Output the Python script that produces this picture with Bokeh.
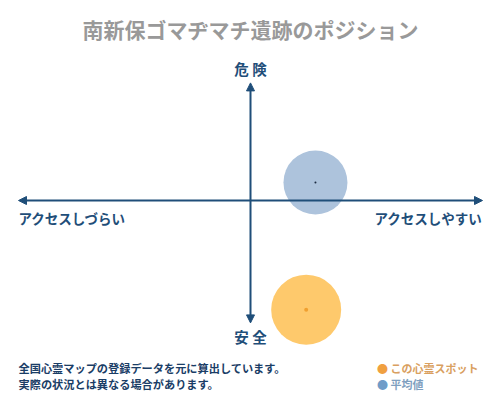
from bokeh.plotting import figure
from bokeh.models import Range1d, Arrow, NormalHead, Label, ColumnDataSource
from bokeh.embed import file_html
from bokeh.resources import INLINE

# ---- data ----
series_names = ["この心霊スポット", "平均値"]
access_values = [0.24, 0.28]      # x: アクセスしづらい(-1) ... アクセスしやすい(+1)
danger_values = [-0.91, 0.15]     # y: 安全(-1) ... 危険(+1)
title_text = "南新保ゴマヂマチ遺跡のポジション"
axis_labels = {"top": "危 険", "bottom": "安 全",
               "left": "アクセスしづらい", "right": "アクセスしやすい"}
footer_lines = ["全国心霊マップの登録データを元に算出しています。",
                "実際の状況とは異なる場合があります。"]

FONT = "Noto Sans CJK JP"
NAVY = "#1f4e79"
W, H = 500, 400

p = figure(width=W, height=H, output_backend="svg", toolbar_location=None,
           x_range=Range1d(-W / 2 / 232, W / 2 / 232),
           y_range=Range1d(-H / 2 / 120, H / 2 / 120),
           min_border=0)
p.axis.visible = False
p.grid.visible = False
p.outline_line_color = None
p.background_fill_color = "white"

fills = ["#fec96c", "#adc3dc"]
sizes = [70, 64]
dot_colors = ["#f0a030", "#1a2a40"]
dot_sizes = [4, 2]
src = ColumnDataSource(dict(x=access_values, y=danger_values, fill=fills,
                            size=sizes, dot=dot_colors, dsize=dot_sizes))
p.scatter("x", "y", source=src, size="size", fill_color="fill", line_color=None)
p.scatter("x", "y", source=src, size="dsize", fill_color="dot", line_color=None)

# axes arrows
p.add_layout(Arrow(start=NormalHead(size=8, fill_color=NAVY, line_color=NAVY),
                   end=NormalHead(size=8, fill_color=NAVY, line_color=NAVY),
                   x_start=-1, y_start=0, x_end=1, y_end=0,
                   line_color=NAVY, line_width=2))
p.add_layout(Arrow(start=NormalHead(size=8, fill_color=NAVY, line_color=NAVY),
                   end=NormalHead(size=8, fill_color=NAVY, line_color=NAVY),
                   x_start=0, y_start=-1.02, x_end=0, y_end=0.98,
                   line_color=NAVY, line_width=2))

def lab(text, x, y, size, color, align="left", bold=True):
    p.add_layout(Label(x=x, y=H - y, x_units="screen", y_units="screen", text=text,
                       text_font=FONT, text_font_size=f"{size}px",
                       text_font_style="bold" if bold else "normal",
                       text_color=color, text_align=align,
                       text_baseline="middle"))

lab(title_text, W / 2, 28, 21, "#999999", "center")
lab(axis_labels["top"], W / 2, 68, 14.5, NAVY, "center")
lab(axis_labels["bottom"], W / 2, 336, 14.5, NAVY, "center")
lab(axis_labels["left"], 18, 217, 13.5, NAVY, "left")
lab(axis_labels["right"], 482, 217, 13.5, NAVY, "right")
lab(footer_lines[0], 18, 367, 11.2, "#1a3d66", "left")
lab(footer_lines[1], 18, 383, 11.2, "#1a3d66", "left")

# legend
leg_colors = ["#f0a040", "#6f9cc8"]
leg_text_colors = ["#d9a060", "#7f9fc0"]
for i, name in enumerate(series_names):
    yy = 367 + 16 * i
    p.add_layout(Label(x=382, y=H - yy, x_units="screen", y_units="screen", text="●",
                       text_font=FONT, text_font_size="11px", text_color=leg_colors[i],
                       text_align="center", text_baseline="middle"))
    lab(name, 390, yy, 11, leg_text_colors[i], "left")

open("out.html", "w").write(file_html(p, INLINE))
